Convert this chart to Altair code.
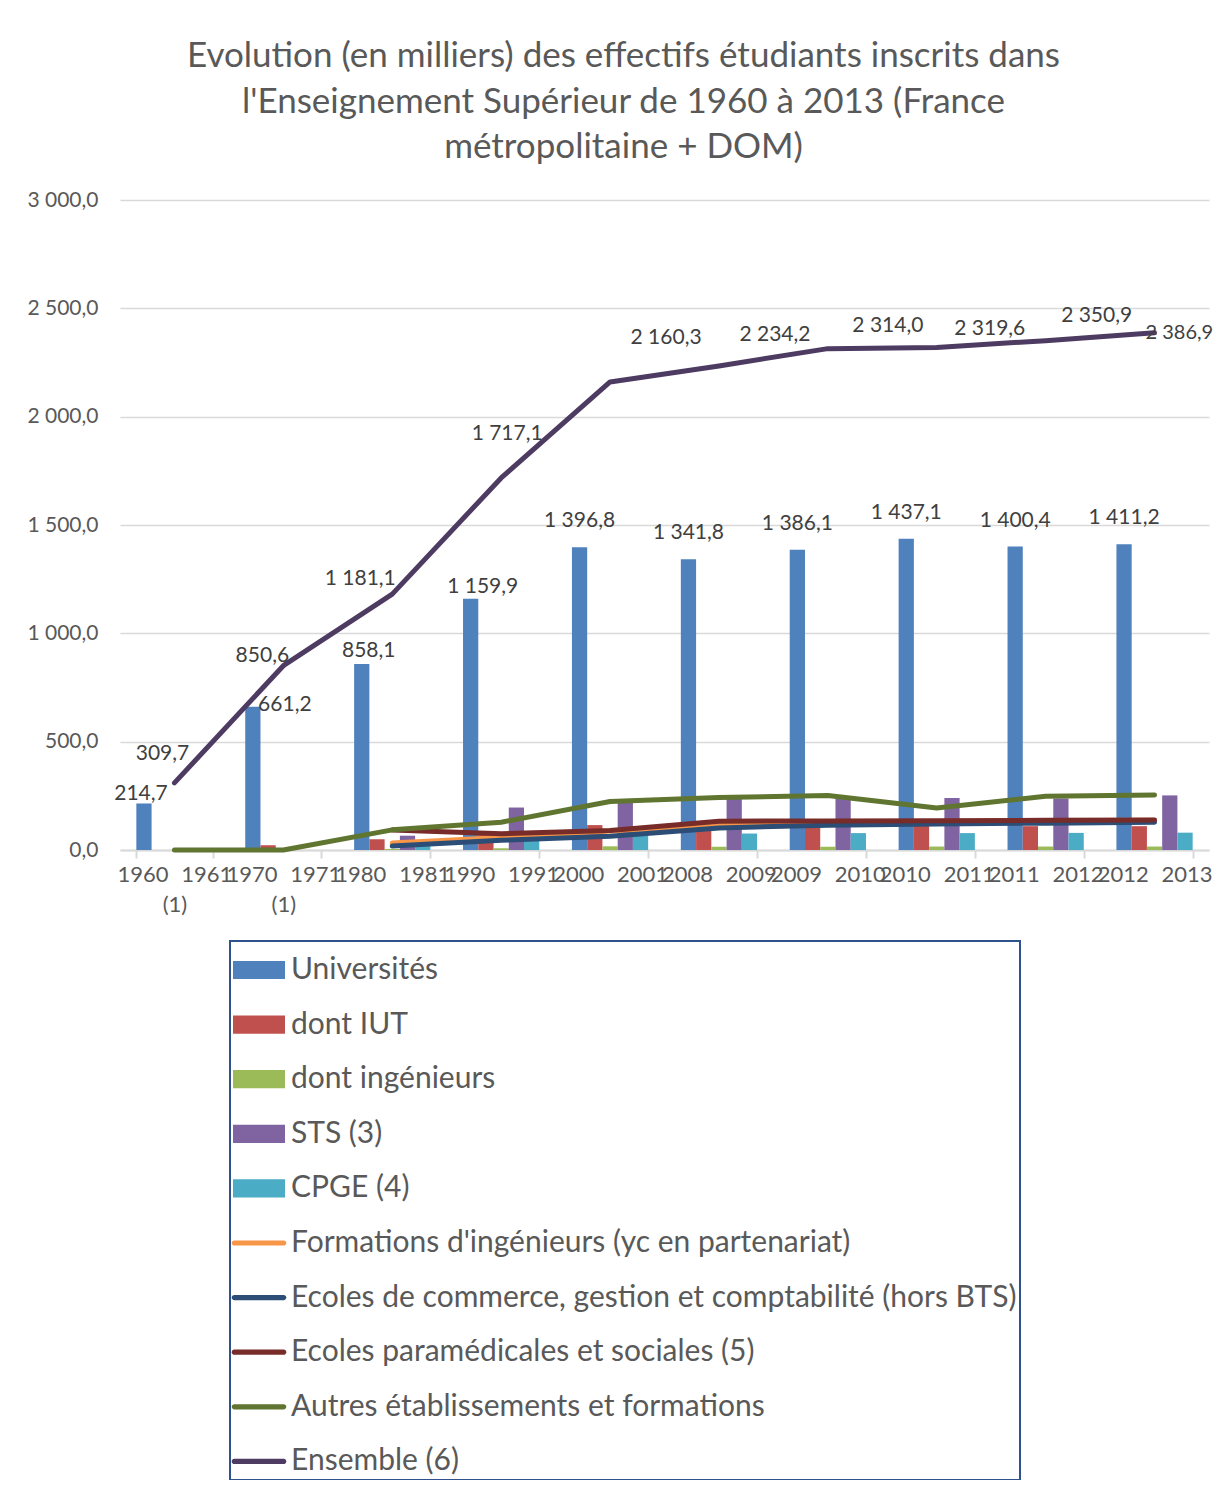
import altair as alt
import pandas as pd

categories = ["1960-1961 (1)", "1970-1971 (1)", "1980-1981", "1990-1991", "2000-2001",
              "2008-2009", "2009-2010", "2010-2011", "2011-2012", "2012-2013"]

universites = [214.7, 661.2, 858.1, 1159.9, 1396.8, 1341.8, 1386.1, 1437.1, 1400.4, 1411.2]
dont_iut = [None, 22.0, 50.0, 74.0, 115.0, 116.0, 114.0, 112.0, 110.0, 110.0]
dont_ingenieurs = [None, None, 5.0, 8.0, 17.0, 15.0, 15.0, 16.0, 16.0, 16.0]
sts = [None, None, 66.0, 196.0, 218.0, 236.0, 238.0, 240.0, 238.0, 252.0]
cpge = [None, None, 40.0, 64.0, 66.0, 76.0, 78.0, 78.0, 79.0, 80.0]

formations_ing = [None, None, 32.0, 58.0, 88.0, 117.0, 126.0, 132.0, 135.0, 137.0]
ecoles_commerce = [None, None, 18.0, 45.0, 63.0, 102.0, 114.0, 120.0, 124.0, 128.0]
ecoles_paramed = [None, None, 92.0, 75.0, 90.0, 133.0, 134.0, 135.0, 137.0, 138.0]
autres = [0.0, 0.0, 93.0, 128.0, 224.0, 242.0, 252.0, 194.0, 248.0, 254.0]
ensemble = [309.7, 850.6, 1181.1, 1717.1, 2160.3, 2234.2, 2314.0, 2319.6, 2350.9, 2386.9]

bar_series = ["Universités", "\u00a0dont IUT", "dont ingénieurs", "STS (3)", "CPGE (4)"]
line_series = ["Formations d'ingénieurs (yc en partenariat)",
               "Ecoles de commerce, gestion et comptabilité (hors BTS)",
               "Ecoles paramédicales et sociales (5)",
               "Autres établissements et formations",
               "Ensemble (6)"]
bar_values = [universites, dont_iut, dont_ingenieurs, sts, cpge]
line_values = [formations_ing, ecoles_commerce, ecoles_paramed, autres, ensemble]

bar_colors = ["#4F81BD", "#C0504D", "#9BBB59", "#8064A2", "#4BACC6"]
line_colors = ["#F79646", "#2C4D75", "#772C2A", "#5F7530", "#4D3B62"]

rows = []
for kind, names, values in (("bar", bar_series, bar_values), ("line", line_series, line_values)):
    for s, vals in zip(names, values):
        for i, (c, v) in enumerate(zip(categories, vals)):
            if v is not None:
                rows.append({"cat": c, "idx": i, "serie": s, "value": v, "kind": kind})
df = pd.DataFrame(rows)

all_series = bar_series + line_series
RECT = "M-1,-0.35H1V0.35H-1Z"
LINE = "M-0.95,-0.1H0.95A0.1,0.1 0 0 1 0.95,0.1H-0.95A0.1,0.1 0 0 1 -0.95,-0.1Z"
color_scale = alt.Scale(domain=all_series, range=bar_colors + line_colors)
shape_scale = alt.Scale(domain=all_series, range=[RECT] * 5 + [LINE] * 5)

FONT = "Lato"
GREY = "#595959"

leg = alt.Legend(title=None, orient="none", legendX=110, legendY=741,
                 symbolSize=2704, symbolStrokeWidth=0, labelFont=FONT, labelFontSize=30,
                 labelColor=GREY, labelLimit=0, labelOffset=6, rowPadding=13.6,
                 padding=3, strokeColor="#2F528F")

fr_fmt = "replace(replace(format(datum.value, ',.1f'), ',', ' '), '.', ',')"

x = alt.X("cat:N", sort=categories,
          scale=alt.Scale(paddingInner=0.3, paddingOuter=0.15),
          axis=alt.Axis(title=None, labelAngle=0, labelFont=FONT, labelFontSize=22,
                        labelColor=GREY, tickBand="extent", domainColor="#D9D9D9",
                        domainWidth=2, tickColor="#D9D9D9", tickWidth=2, tickSize=8,
                        labelPadding=6, labelLineHeight=30, labelOverlap=False,
                        labelExpr="indexof(datum.label, ' (') > 0 ? "
                                  "[replace(substring(datum.label, 0, indexof(datum.label, ' (')), '-', '\u2007'), "
                                  "substring(datum.label, indexof(datum.label, ' (') + 1)] : "
                                  "replace(datum.label, '-', '\u2007')"))
y = alt.Y("value:Q", scale=alt.Scale(domain=[0, 3000]),
          axis=alt.Axis(title=None, values=[0, 500, 1000, 1500, 2000, 2500, 3000],
                        labelExpr=fr_fmt,
                        grid=True, gridColor="#D9D9D9", gridWidth=1.5, domain=False,
                        ticks=False, labelFont=FONT, labelFontSize=21, labelColor=GREY,
                        labelPadding=22))

color = alt.Color("serie:N", scale=color_scale, legend=leg)
xoff = alt.XOffset("serie:N", scale=alt.Scale(domain=bar_series, paddingInner=0, paddingOuter=0))

base = alt.Chart(df)

bars = base.transform_filter("datum.kind == 'bar'").mark_bar().encode(
    x=x, xOffset=xoff, y=y, color=color)

layers = [bars]
for s in line_series:
    layers.append(
        base.transform_filter(alt.datum.serie == s).mark_line(
            strokeWidth=5, strokeCap="round", strokeJoin="round").encode(
            x=x, y=y, color=color, order=alt.Order("idx:Q")))

legend_layer = base.transform_filter("false").mark_point(filled=True, opacity=1).encode(
    x=x, y=y, color=color,
    shape=alt.Shape("serie:N", scale=shape_scale, legend=leg))
layers.append(legend_layer)


def univ_labels(idxs, dx, dy, align="center", size=21):
    return base.transform_filter(alt.datum.serie == "Universités").transform_filter(
        alt.FieldOneOfPredicate(field="idx", oneOf=idxs)).transform_calculate(
        lab=fr_fmt).mark_text(font=FONT, fontSize=size, color="#404040", dx=dx, dy=dy,
                              align=align, baseline="middle").encode(
        x=x, xOffset=xoff, y=y, text="lab:N")


def ens_labels(idxs, dx, dy, align="center", size=21):
    return base.transform_filter(alt.datum.serie == "Ensemble (6)").transform_filter(
        alt.FieldOneOfPredicate(field="idx", oneOf=idxs)).transform_calculate(
        lab=fr_fmt).mark_text(font=FONT, fontSize=size, color="#404040", dx=dx, dy=dy,
                              align=align, baseline="middle").encode(
        x=x, y=y, text="lab:N")


layers += [
    univ_labels([0], -3, -9),
    univ_labels([1], 32, -2),
    univ_labels([2], 7, -13),
    univ_labels([3], 12, -12),
    univ_labels([4, 5, 6, 7, 8, 9], 0, -26),
    ens_labels([0], -12, -29),
    ens_labels([1], -21, -10),
    ens_labels([2], -32, -15),
    ens_labels([3], 6, -44),
    ens_labels([4], 56, -44),
    ens_labels([5], 56, -31),
    ens_labels([6], 60, -23),
    ens_labels([7], 53, -18),
    ens_labels([8], 51, -25),
    ens_labels([9], -9, 0, "left", 20),
]

chart = alt.layer(*layers).properties(
    width=1089, height=650,
    autosize=alt.AutoSizeParams(type="none"),
    padding={"left": 112, "top": 192, "right": 10, "bottom": 630},
    title=alt.TitleParams(
        ["Evolution (en milliers) des effectifs étudiants inscrits dans",
         "l'Enseignement Supérieur de 1960 à 2013 (France",
         "métropolitaine + DOM)"],
        font=FONT, fontSize=35, fontWeight="normal", color=GREY, lineHeight=45.5,
        anchor="middle", frame="group", dx=-41, offset=24),
).configure_view(stroke=None).configure_legend(strokeWidth=2)

chart.save("out.html", embed_options={"renderer": "svg", "actions": False})
